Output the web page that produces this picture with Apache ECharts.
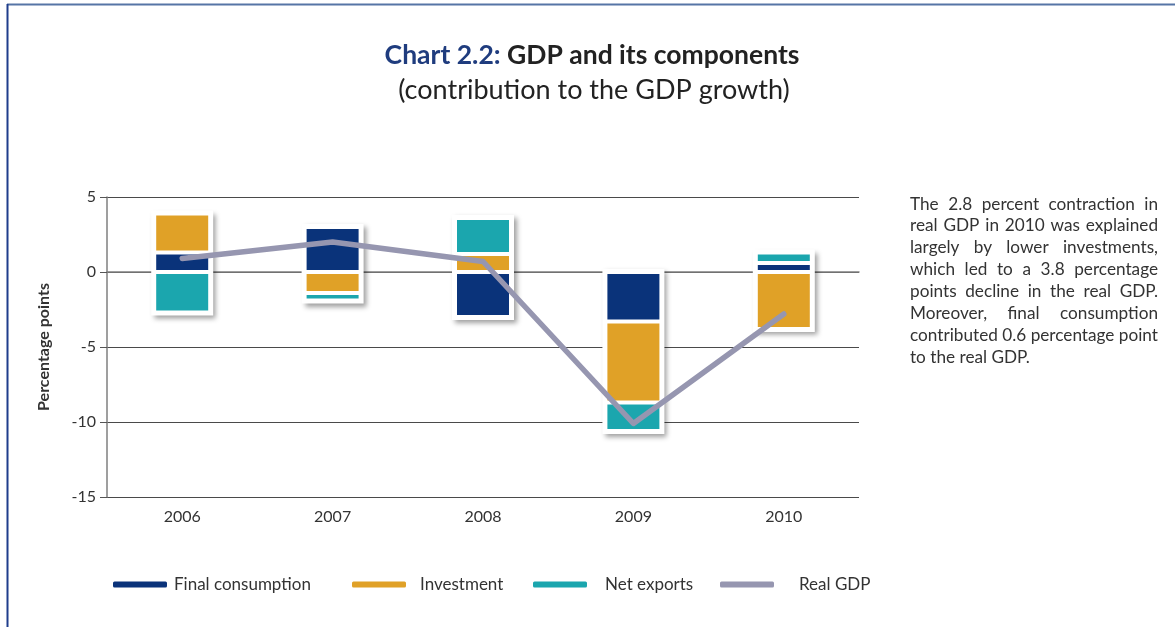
<!DOCTYPE html>
<html>
<head>
<meta charset="utf-8">
<title>GDP and its components</title>
<script src="https://cdn.jsdelivr.net/npm/echarts@6/dist/echarts.min.js"></script>
<style>
  html, body { margin: 0; padding: 0; background: #fff; }
  #chart { width: 1175px; height: 627px; }
</style>
</head>
<body>
<div id="chart"></div>
<script>
// Contributions to real GDP growth, percentage points
const years = ['2006', '2007', '2008', '2009', '2010'];
const finalConsumption = [1.3, 3.0, -3.0, -3.3, 0.6];
const investment = [2.6, -1.4, 1.2, -5.4, -3.8];
const netExports = [-2.7, -0.5, 2.4, -1.9, 0.7];
const realGDP = [0.9, 2.0, 0.7, -10.1, -2.8];
const yTicks = [-15, -10, -5, 0, 5];

const noteLines = [
  'The 2.8 percent contraction in',
  'real GDP in 2010 was explained',
  'largely by lower investments,',
  'which led to a 3.8 percentage',
  'points decline in the real GDP.',
  'Moreover, final consumption',
  'contributed 0.6 percentage point',
  'to the real GDP.'
];

const COLORS = {
  consumption: '#0A337A',
  investment: '#E0A127',
  netExports: '#1BA6AE',
  gdp: '#9696B0'
};
const FONT = 'Lato';
const BAR_W = 56;

// Extent of each stacked column (positive and negative parts)
const components = [finalConsumption, investment, netExports];
const frames = years.map((_, i) => {
  let pos = 0, neg = 0;
  components.forEach(s => { if (s[i] >= 0) pos += s[i]; else neg += s[i]; });
  return [i, pos, neg];
});

const chart = echarts.init(document.getElementById('chart'), null, { renderer: 'canvas' });

// Justified side note, laid out word by word; the font size is chosen so
// the longest line fills the column width with normal word spacing.
const noteLeft = 910, noteRight = 1158, noteTop = 204, noteStep = 21.9;
const measureCtx = document.createElement('canvas').getContext('2d');
measureCtx.font = '100px ' + FONT;
const noteFontSize = Math.round(
  (noteRight - noteLeft) / measureCtx.measureText(noteLines[6]).width * 100 * 10) / 10;
measureCtx.font = noteFontSize + 'px ' + FONT;
const noteElements = [];
noteLines.forEach((line, li) => {
  const words = line.split(' ');
  const y = noteTop + li * noteStep;
  const widths = words.map(w => measureCtx.measureText(w).width);
  const total = widths.reduce((a, b) => a + b, 0);
  const last = li === noteLines.length - 1;
  const gap = last ? measureCtx.measureText(' ').width
                   : (noteRight - noteLeft - total) / (words.length - 1);
  let x = noteLeft;
  words.forEach((w, wi) => {
    noteElements.push({
      type: 'text', x: x, y: y,
      style: { text: w, fill: '#333', font: noteFontSize + 'px ' + FONT,
               textAlign: 'left', textVerticalAlign: 'middle' }
    });
    x += widths[wi] + gap;
  });
});

function legendAt(name, left, textGap) {
  return {
    data: [name],
    left: left, top: 571,
    icon: 'roundRect',
    itemWidth: 54, itemHeight: 6,
    itemStyle: { borderWidth: 0 },
    textStyle: { color: '#333', fontSize: 17, fontFamily: FONT, padding: [0, 0, 0, textGap] },
    selectedMode: false
  };
}

const option = {
  animation: false,
  backgroundColor: '#fff',
  textStyle: { fontFamily: FONT },
  grid: { left: 107, right: 316, top: 197, bottom: 130 },
  legend: [
    legendAt('Final consumption', 108, 2),
    legendAt('Investment', 347, 9),
    legendAt('Net exports', 528, 13),
    legendAt('Real GDP', 715, 20)
  ],
  xAxis: {
    type: 'category',
    data: years,
    axisLine: { lineStyle: { color: '#7f7f7f', width: 1.5 } },
    axisTick: { length: 6, lineStyle: { color: '#7f7f7f' } },
    axisLabel: { color: '#333', fontSize: 16, margin: 12, fontFamily: FONT }
  },
  yAxis: {
    type: 'value',
    min: yTicks[0], max: yTicks[yTicks.length - 1], interval: 5,
    name: 'Percentage points',
    nameLocation: 'middle',
    nameGap: 55,
    nameTextStyle: { fontWeight: 'bold', fontSize: 16, color: '#333', fontFamily: FONT },
    axisLine: { show: true, lineStyle: { color: '#7f7f7f', width: 1.5 } },
    axisTick: { show: true, length: 7, lineStyle: { color: '#555' } },
    axisLabel: { color: '#333', fontSize: 16, margin: 11, fontFamily: FONT },
    splitLine: { lineStyle: { color: '#4a4a4a', width: 1 } }
  },
  series: [
    {
      // white framed backdrop with drop shadow behind each column
      type: 'custom',
      name: 'frame',
      coordinateSystem: 'cartesian2d',
      silent: true,
      z: 1,
      encode: { x: 0, y: [1, 2] },
      data: frames,
      renderItem: function (params, api) {
        const top = api.coord([api.value(0), api.value(1)]);
        const bot = api.coord([api.value(0), api.value(2)]);
        const w = BAR_W + 6;
        return {
          type: 'rect',
          shape: { x: top[0] - w / 2, y: top[1] - 3, width: w, height: bot[1] - top[1] + 6 },
          style: {
            fill: '#fff',
            shadowBlur: 5, shadowOffsetX: 3, shadowOffsetY: 3,
            shadowColor: 'rgba(0,0,0,0.38)'
          }
        };
      }
    },
    {
      name: 'Final consumption', type: 'bar', stack: 'gdp', barWidth: BAR_W, z: 2,
      itemStyle: { color: COLORS.consumption, borderColor: '#fff', borderWidth: 2 },
      data: finalConsumption
    },
    {
      name: 'Investment', type: 'bar', stack: 'gdp', barWidth: BAR_W, z: 2,
      itemStyle: { color: COLORS.investment, borderColor: '#fff', borderWidth: 2 },
      data: investment
    },
    {
      name: 'Net exports', type: 'bar', stack: 'gdp', barWidth: BAR_W, z: 2,
      itemStyle: { color: COLORS.netExports, borderColor: '#fff', borderWidth: 2 },
      data: netExports
    },
    {
      name: 'Real GDP', type: 'line', z: 3,
      symbol: 'none',
      itemStyle: { color: COLORS.gdp },
      lineStyle: { color: COLORS.gdp, width: 5.5, cap: 'round', join: 'round' },
      data: realGDP
    }
  ],
  graphic: [
    // page frame lines
    { type: 'line', shape: { x1: 7, y1: 4.5, x2: 1175, y2: 4.5 }, style: { stroke: '#5675a6', lineWidth: 2 } },
    { type: 'line', shape: { x1: 7.5, y1: 4, x2: 7.5, y2: 627 }, style: { stroke: '#1f3d8c', lineWidth: 2 } },
    {
      type: 'text', x: 592, y: 55,
      style: {
        text: '{a|Chart 2.2: }{b|GDP and its components}',
        textAlign: 'center', textVerticalAlign: 'middle',
        rich: {
          a: { fontFamily: FONT, fontWeight: 'bold', fontSize: 26.5, fill: '#1F3C7E' },
          b: { fontFamily: FONT, fontWeight: 'bold', fontSize: 26.5, fill: '#222' }
        }
      }
    },
    {
      type: 'text', x: 594, y: 90,
      style: {
        text: '(contribution to the GDP growth)',
        textAlign: 'center', textVerticalAlign: 'middle',
        font: '27px ' + FONT, fill: '#222'
      }
    }
  ].concat(noteElements)
};

chart.setOption(option);
</script>
</body>
</html>
